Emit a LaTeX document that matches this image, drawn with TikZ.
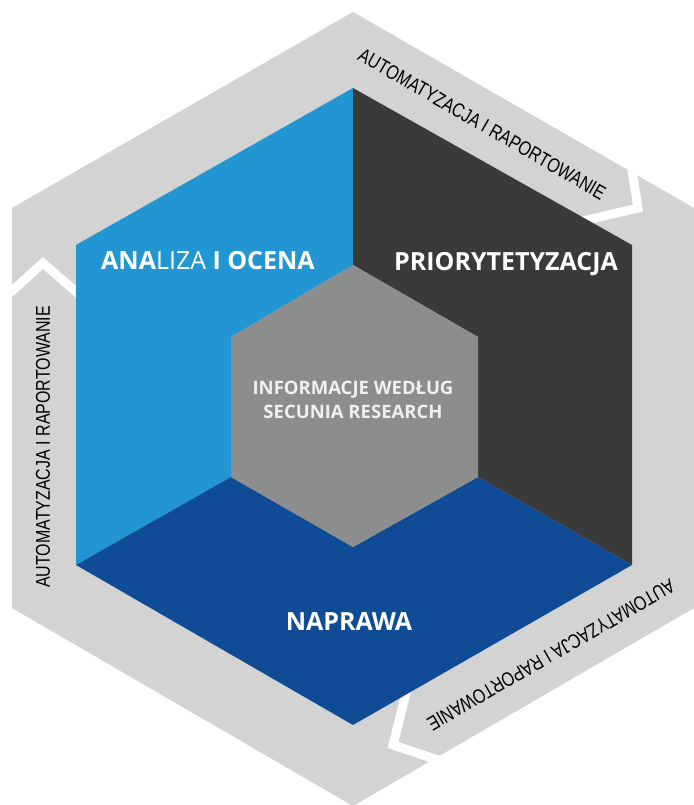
\documentclass[tikz,border=0pt]{standalone}
\usepackage{fontspec}
\usepackage{tikz}
\newfontfamily\labelfont{Open Sans}
\newfontfamily\bandfont[FakeStretch=0.8]{Liberation Sans}
\definecolor{bandgray}{HTML}{D3D3D3}
\definecolor{analizablue}{HTML}{2196D3}
\definecolor{priodark}{HTML}{3A3A3A}
\definecolor{naprawablue}{HTML}{0F4C95}
\definecolor{coregray}{HTML}{8C8E8D}

\begin{document}
\begin{tikzpicture}[x=1pt,y=-1pt,
    title/.style={text=white,font=\labelfont\bfseries\fontsize{25}{28}\selectfont,inner sep=0pt},
    core/.style={text=white!94!black,font=\labelfont\bfseries\fontsize{18.5}{24}\selectfont,align=center,inner sep=0pt},
    bandtext/.style={text=black,font=\bandfont\fontsize{20}{22}\selectfont,inner sep=0pt},
    chevron/.style={white,line width=9pt,line join=miter,miter limit=10}]
    \useasboundingbox (0,0) rectangle (693,805);
    % outer band
    \coordinate (o1) at (353,12);  \coordinate (o2) at (694,208);
    \coordinate (o3) at (694,608); \coordinate (o4) at (353,806);
    \coordinate (o5) at (12,608);  \coordinate (o6) at (12,208);
    % coloured hexagon
    \coordinate (i1) at (353,88);  \coordinate (i2) at (632,245);
    \coordinate (i3) at (632,565); \coordinate (i4) at (353,725);
    \coordinate (i5) at (76,565);  \coordinate (i6) at (76,245);
    % centre hexagon
    \coordinate (c1) at (353,265); \coordinate (c2) at (478,337);
    \coordinate (c3) at (478,477); \coordinate (c4) at (353,547);
    \coordinate (c5) at (231,477); \coordinate (c6) at (231,337);
    \fill[bandgray] (o1) -- (o2) -- (o3) -- (o4) -- (o5) -- (o6) -- cycle;
    \begin{scope}
      \clip (o1) -- (o2) -- (o3) -- (o4) -- (o5) -- (o6) -- cycle;
      \coordinate (ra) at (629,152); \coordinate (rb) at (638,208); \coordinate (rc) at (570,224);
      \coordinate (la) at (2,300);   \coordinate (lb) at (43,263);  \coordinate (lc) at (90,304);
      \coordinate (ba) at (410,677); \coordinate (bb) at (393,745); \coordinate (bc) at (462,768);
      \draw[chevron] (ra) -- (rb) -- (rc);
      \draw[chevron] (la) -- (lb) -- (lc);
      \draw[chevron] (ba) -- (bb) -- (bc);
    \end{scope}
    \fill[analizablue] (i1) -- (i6) -- (i5) -- (c5) -- (c6) -- (c1) -- cycle;
    \fill[priodark] (i1) -- (i2) -- (i3) -- (c3) -- (c2) -- (c1) -- cycle;
    \fill[naprawablue] (i5) -- (i4) -- (i3) -- (c3) -- (c4) -- (c5) -- cycle;
    \fill[coregray] (c1) -- (c2) -- (c3) -- (c4) -- (c5) -- (c6) -- cycle;
    \node[title] (analiza) at (208,261) {ANA{\mdseries LIZA} I OCENA};
    \node[title] (prio) at (506,264) {PRIORYTETYZACJA};
    \node[title] (naprawa) at (349,622) {NAPRAWA};
    \node[core] (secunia) at (353,400) {INFORMACJE WEDŁUG\\SECUNIA RESEARCH};
    \node[bandtext,rotate=-30] (autoright) at (482,124) {AUTOMATYZACJA I RAPORTOWANIE};
    \node[bandtext,rotate=90] (autoleft) at (43,447) {AUTOMATYZACJA I RAPORTOWANIE};
    \node[bandtext,rotate=210] (autobottom) at (551,655) {AUTOMATYZACJA I RAPORTOWANIE};
\end{tikzpicture}
\end{document}
